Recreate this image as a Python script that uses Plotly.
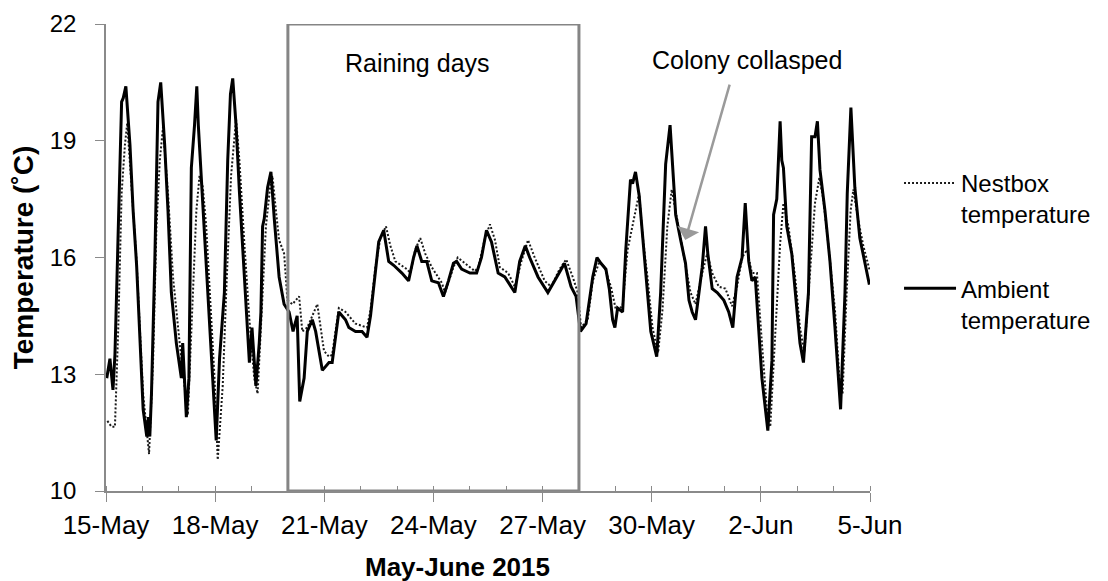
import pandas as pd
import plotly.graph_objects as go

START = pd.Timestamp("2015-05-15")

# Hours since 15-May 00:00 and temperatures (°C)
ambient_hours = [0.5, 2.6, 4.6, 5.9, 7.0, 9.2, 10.3, 11.4, 13.1, 15.8, 17.9, 20.2, 22.3, 24.5, 26.9, 27.9,
                 28.9, 30.0, 32.2, 33.3, 34.3, 36.1, 38.7, 40.9, 43.1, 46.4, 49.7, 50.6, 53.0, 54.7, 56.3,
                 58.4, 59.9, 60.9, 62.8, 65.0, 67.2, 70.5, 72.7, 74.9, 78.1, 80.3, 82.1, 83.6, 85.8, 88.0,
                 91.3, 93.4, 94.6, 96.3, 98.9, 101.1, 102.2, 103.3, 104.4, 106.6, 108.8, 111.0, 114.2,
                 117.5, 120.8, 123.4, 126.1, 127.8, 130.7, 132.8, 136.1, 138.3, 142.7, 147.1, 149.2,
                 153.6, 158.0, 160.2, 164.6, 168.9, 172.2, 174.5, 177.7, 179.9, 183.2, 186.5, 189.8,
                 195.2, 199.6, 202.9, 205.1, 208.3, 211.6, 214.9, 219.3, 222.6, 225.9, 229.2, 231.3,
                 234.6, 240.1, 244.5, 247.7, 251.0, 254.3, 258.7, 263.1, 269.7, 272.9, 276.6, 279.5,
                 285.0, 291.5, 297.0, 300.3, 302.5, 306.8, 310.1, 313.0, 316.7, 318.9, 321.1, 323.9,
                 326.5, 329.8, 332.0, 334.2, 335.7, 337.5, 340.8, 342.9, 344.7, 346.0, 347.4, 349.3,
                 351.7, 353.9, 356.1, 359.4, 363.3, 365.9, 369.2, 372.1, 373.6, 375.8, 379.1, 382.3,
                 384.6, 386.7, 388.9, 391.1, 393.3, 395.5, 397.0, 399.9, 403.2, 407.6, 410.8, 413.5,
                 416.3, 419.6, 421.7, 424.0, 426.1, 428.3, 430.5, 432.7, 436.6, 439.3, 440.4, 442.5,
                 444.7, 445.8, 446.9, 449.1, 452.4, 455.7, 457.8, 460.1, 463.4, 465.5, 467.7, 469.3,
                 471.0, 474.3, 477.6, 480.9, 484.6, 487.5, 489.0, 491.4, 494.0, 497.3, 501.7, 503.6]
ambient_temp = [12.9, 13.4, 12.6, 13.5, 15.1, 18.5, 20.0, 20.1, 20.4, 18.9, 17.2, 15.8, 13.8, 12.1, 11.4, 11.9,
                11.4, 12.5, 15.9, 18.5, 20.0, 20.5, 18.9, 17.2, 15.1, 13.8, 12.9, 13.8, 11.9, 12.9, 18.3,
                19.4, 20.4, 19.4, 18.1, 16.8, 15.1, 12.9, 11.3, 13.4, 15.1, 18.5, 20.2, 20.6, 19.4, 17.7,
                15.5, 14.1, 13.3, 14.2, 12.7, 13.8, 14.6, 16.8, 17.0, 17.8, 18.2, 17.0, 15.5,
                14.8, 14.6, 14.1, 14.5, 12.3, 12.9, 14.1, 14.4, 14.1, 13.1, 13.3, 13.3,
                14.6, 14.4, 14.2, 14.1, 14.1, 13.95, 14.5, 15.6, 16.4, 16.7, 15.9, 15.8,
                15.6, 15.4, 16.0, 16.3, 15.9, 15.9, 15.4, 15.35, 15.0, 15.4, 15.85, 15.9,
                15.7, 15.6, 15.6, 16.0, 16.7, 16.4, 15.6, 15.5, 15.1, 15.9, 16.3, 16.0,
                15.5, 15.1, 15.5, 15.7, 15.85, 15.25, 15.0, 14.1, 14.3, 14.9, 15.5, 16.0,
                15.85, 15.7, 15.2, 14.4, 14.2, 14.7, 14.6, 16.2, 17.2, 18.0, 17.9, 18.2,
                17.6, 16.5, 15.6, 14.1, 13.45, 15.1, 18.4, 19.4, 18.5, 17.1, 16.45, 15.85,
                14.9, 14.6, 14.4, 15.1, 15.75, 16.8, 16.1, 15.2, 15.1, 14.9, 14.6, 14.2,
                15.5, 16.0, 17.4, 15.9, 15.4, 15.5, 14.2, 12.9, 11.55, 13.35, 17.1, 17.5,
                19.5, 18.5, 18.3, 16.8, 16.1, 14.65, 13.8, 13.3, 15.1, 19.1, 19.1, 19.5,
                18.25, 17.2, 15.9, 14.2, 12.1, 15.1, 17.65, 19.85, 17.8, 16.5, 15.7, 15.3]

nestbox_hours = [0.9, 3.7, 5.9, 8.1, 10.3, 12.5, 14.0, 16.9, 20.2, 22.3, 24.5, 28.4, 31.1, 33.3, 35.5,
                 37.6, 40.9, 44.2, 48.6, 54.0, 56.3, 59.6, 61.7, 63.9, 66.1, 69.4, 71.6, 73.7, 77.0,
                 79.3, 82.5, 85.8, 88.0, 91.3, 94.6, 97.8, 100.0, 102.2, 105.5, 108.8, 109.8, 112.1,
                 114.2, 117.5, 119.7, 123.0, 127.4, 129.5, 132.8, 136.1, 139.4, 143.8, 147.1, 149.2,
                 153.6, 158.0, 164.6, 172.2, 174.5, 177.7, 181.0, 184.7, 187.6, 190.9, 198.5, 200.8,
                 204.0, 207.3, 210.6, 214.9, 221.5, 223.7, 229.2, 232.0, 236.8, 243.4, 245.6, 250.0,
                 253.3, 256.6, 259.8, 265.3, 269.7, 274.0, 278.4, 282.8, 289.4, 293.7, 299.2, 303.6,
                 307.9, 311.2, 313.4, 317.8, 321.1, 325.5, 328.8, 333.1, 336.4, 340.8, 344.1, 348.5,
                 350.6, 351.7, 353.9, 357.2, 360.5, 364.2, 367.1, 370.3, 373.2, 375.8, 379.1, 382.3,
                 385.6, 388.9, 393.3, 396.6, 399.9, 404.3, 408.6, 413.0, 416.3, 419.6, 422.9, 426.1,
                 429.4, 432.7, 436.0, 438.2, 441.5, 444.7, 446.9, 450.2, 454.6, 457.8, 460.7, 464.4,
                 467.7, 470.6, 473.2, 476.5, 480.9, 483.8, 485.9, 488.6, 491.2, 493.0, 496.3, 499.6,
                 503.9]
nestbox_temp = [11.8, 11.65, 11.65, 14.2, 17.65, 18.9, 19.45, 17.65, 15.9, 14.2, 12.5, 10.95, 13.4, 16.8, 18.5,
                19.35, 17.65, 15.5, 13.8, 11.95, 14.2, 17.2, 18.1, 17.8, 16.8, 14.65, 12.9, 10.8, 12.7,
                15.1, 18.1, 19.55, 18.5, 16.35, 14.4, 12.9, 12.5, 14.2, 16.8, 18.0, 18.1, 17.2,
                16.45, 16.1, 14.9, 14.8, 15.0, 14.1, 14.2, 14.5, 14.8, 13.6, 13.45, 13.5,
                14.7, 14.6, 14.3, 14.2, 14.65, 15.75, 16.5, 16.8, 16.3, 15.9, 15.7, 15.6,
                16.2, 16.5, 16.1, 15.75, 15.35, 15.1, 15.75, 16.0, 15.85, 15.65, 15.75, 16.5,
                16.85, 16.45, 15.75, 15.6, 15.25, 15.9, 16.45, 16.0, 15.4, 15.25, 15.7, 15.95,
                15.5, 15.1, 14.2, 14.4, 15.4, 15.9, 15.75, 15.25, 14.65, 14.75, 16.2, 17.05,
                17.5, 17.65, 16.6, 15.5, 14.2, 13.55, 14.65, 16.8, 17.75, 17.2, 16.5, 15.9,
                15.1, 14.8, 15.6, 16.1, 15.6, 15.25, 15.2, 14.75, 15.25, 16.0, 16.2, 15.6,
                15.6, 13.8, 12.1, 11.65, 14.2, 16.35, 17.4, 16.8, 15.5, 14.2, 13.55, 15.5,
                17.4, 18.05, 17.5, 16.35, 14.65, 12.9, 12.5, 15.1, 17.2, 17.75, 16.95, 16.3,
                15.65]

tick_dates = ["2015-05-15", "2015-05-18", "2015-05-21", "2015-05-24", "2015-05-27",
              "2015-05-30", "2015-06-02", "2015-06-05"]
tick_labels = ["15-May", "18-May", "21-May", "24-May", "27-May", "30-May", "2-Jun", "5-Jun"]
y_ticks = [10, 13, 16, 19, 22]

rain_start, rain_end = "2015-05-20 00:00", "2015-05-28 00:00"

ambient_x = [START + pd.Timedelta(hours=h) for h in ambient_hours]
nestbox_x = [START + pd.Timedelta(hours=h) for h in nestbox_hours]

FONT = "Liberation Sans, Arial, sans-serif"

fig = go.Figure()
fig.add_trace(go.Scatter(x=nestbox_x, y=nestbox_temp, mode="lines",
                         name="Nestbox<br>temperature", legendgroup="n",
                         line=dict(color="#1a1a1a", width=2, dash="2px,2px")))
fig.add_trace(go.Scatter(x=ambient_x, y=ambient_temp, mode="lines",
                         name="Ambient<br>temperature", legendgroup="a",
                         line=dict(color="black", width=3)))

fig.add_shape(type="rect", xref="x", yref="y", x0=rain_start, x1=rain_end, y0=10, y1=22,
              line=dict(color="#858585", width=3), fillcolor="rgba(0,0,0,0)", layer="above")

fig.add_annotation(x="2015-05-23 13:30", y=21.0, xref="x", yref="y", text="Raining days",
                   showarrow=False, font=dict(family=FONT, size=25, color="black"))
fig.add_annotation(x="2015-06-01 15:00", y=21.07, xref="x", yref="y", text="Colony collasped",
                   showarrow=False, font=dict(family=FONT, size=25, color="black"))
fig.add_annotation(x=START + pd.Timedelta(hours=382.1), y=16.45, xref="x", yref="y",
                   ax=START + pd.Timedelta(hours=411.7), ay=20.48, axref="x", ayref="y",
                   text="", showarrow=True, arrowhead=1, arrowsize=1.5, arrowwidth=2.5,
                   arrowcolor="#9a9a9a")
# x-axis title (placed slightly left of centre as in the original)
fig.add_annotation(x=0.46, y=-0.163, xref="paper", yref="paper", text="<b>May-June 2015</b>",
                   showarrow=False, xanchor="center", yanchor="middle",
                   font=dict(family=FONT, size=26, color="black"))

fig.update_layout(
    width=1100, height=573,
    margin=dict(l=98, r=235, t=16, b=90),
    paper_bgcolor="white", plot_bgcolor="white",
    font=dict(family=FONT, color="black"),
    showlegend=True,
    legend=dict(x=1.038, y=0.707, xanchor="left", yanchor="top",
                font=dict(family=FONT, size=24, color="black"),
                tracegroupgap=40, valign="top", itemwidth=52,
                bgcolor="rgba(0,0,0,0)"),
)
fig.update_xaxes(
    type="date", range=["2015-05-15", "2015-06-05"], automargin=False,
    tickmode="array", tickvals=tick_dates, ticktext=tick_labels,
    ticks="outside", ticklen=9, tickwidth=1.3, tickcolor="#8a8a8a",
    showline=True, linecolor="#8a8a8a", linewidth=1.5,
    showgrid=False, zeroline=False,
    tickfont=dict(family=FONT, size=26, color="black"),
    ticklabelstandoff=1,
    minor=dict(dtick=86400000, ticks="inside", ticklen=5, tickcolor="#8a8a8a", showgrid=False),
)
fig.update_yaxes(
    range=[10, 22], tickmode="array", tickvals=y_ticks, automargin=False,
    ticks="outside", ticklen=9, tickwidth=1.3, tickcolor="#8a8a8a",
    showline=True, linecolor="#8a8a8a", linewidth=1.5,
    showgrid=False, zeroline=False,
    tickfont=dict(family=FONT, size=24, color="black"),
    ticklabelstandoff=14,
    title=dict(text="<b>Temperature (˚C)</b>", font=dict(family=FONT, size=28, color="black"), standoff=10),
)

fig.write_html("out.html")
